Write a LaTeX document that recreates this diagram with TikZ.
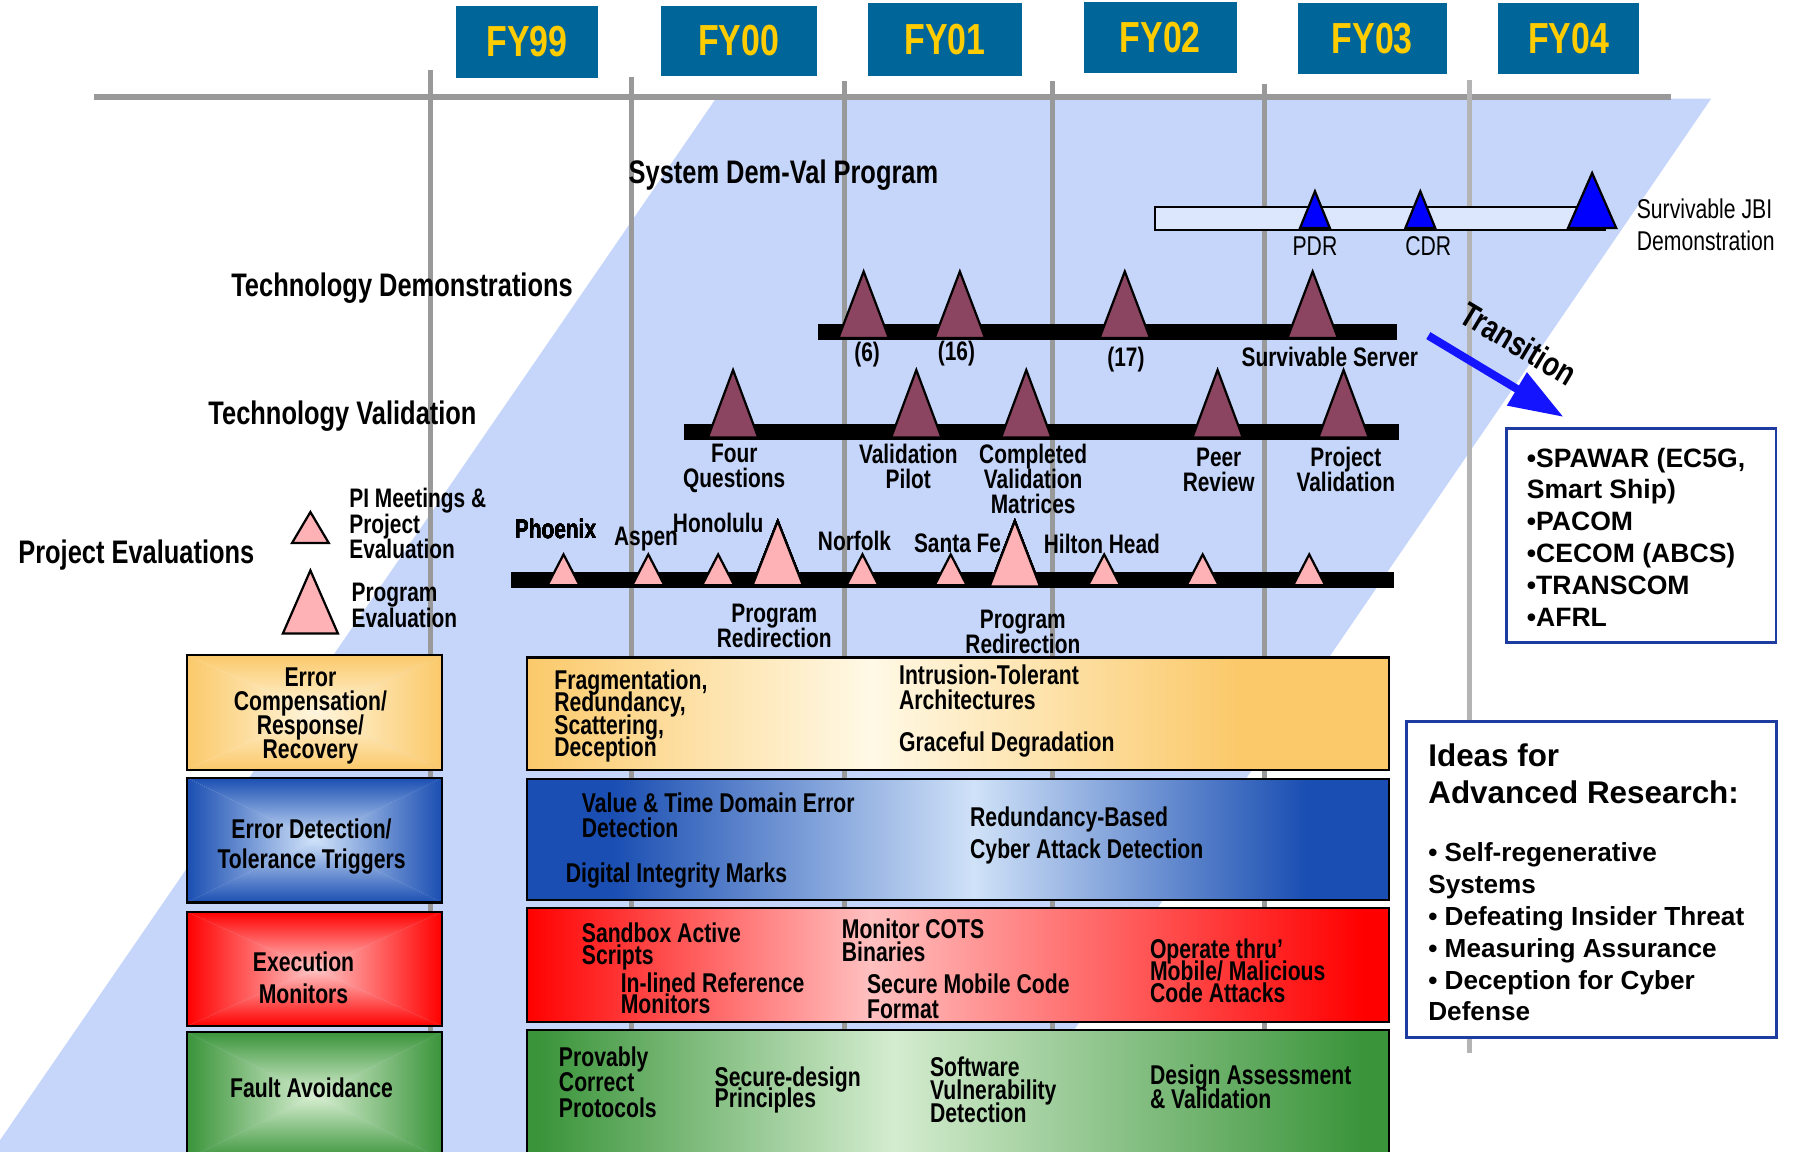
\documentclass[tikz,border=0pt]{standalone}
\usepackage{fontspec}
\usetikzlibrary{arrows.meta}
\newfontfamily\condsans{Liberation Sans}[FakeStretch=0.78]
\newfontfamily\plainsans{Liberation Sans}
\newcommand\cb{\condsans\bfseries}
\newcommand\fs[2]{\fontsize{#1pt}{#2pt}\selectfont\lineskiplimit=-50pt\lineskip=0pt\relax}

\definecolor{bgblue}{RGB}{198,214,250}
\definecolor{yearfill}{RGB}{0,102,153}
\definecolor{yeartext}{RGB}{255,204,0}
\definecolor{gridgray}{RGB}{153,153,153}
\definecolor{lightgrid}{RGB}{180,180,180}
\definecolor{mauve}{RGB}{139,69,96}
\definecolor{evalpink}{RGB}{255,178,182}
\definecolor{jbiblue}{RGB}{0,0,255}
\definecolor{barfill}{RGB}{220,230,252}
\definecolor{arrowblue}{RGB}{20,20,255}
\definecolor{frameblue}{RGB}{30,60,160}
% band colours: D = saturated edge, L = light band centre, C = box centre
\definecolor{orD}{RGB}{251,201,106}
\definecolor{orL}{RGB}{255,249,230}
\definecolor{orC}{RGB}{255,246,222}
\definecolor{blD}{RGB}{26,78,178}
\definecolor{blL}{RGB}{208,226,248}
\definecolor{blC}{RGB}{210,228,250}
\definecolor{rdD}{RGB}{255,0,0}
\definecolor{rdL}{RGB}{255,192,192}
\definecolor{rdC}{RGB}{255,200,200}
\definecolor{gnD}{RGB}{58,148,58}
\definecolor{gnL}{RGB}{212,236,207}
\definecolor{gnC}{RGB}{218,240,212}

\tikzset{
  every node/.style={inner sep=0pt, outer sep=0pt},
  gridline/.style={draw=gridgray, line width=0.1cm},
  yearline/.style={draw=gridgray, line width=0.085cm},
  yearbox/.style={fill=yearfill, text=yeartext, font=\cb\fs{21.6}{22}},
  mstone/.style={draw=black, line width=1.1pt},
  heading/.style={font=\cb\fs{16.2}{16}, anchor=base},
  tag/.style={font=\cb\fs{13.3}{13}, anchor=base},
  tagblock/.style={font=\cb\fs{13.3}{12.4}, align=center, anchor=north},
  legend/.style={font=\cb\fs{13.3}{12.8}, align=left, anchor=north west},
  boxtext/.style={font=\cb\fs{13.5}{#1}, align=left, anchor=north west},
  boxtext/.default=12,
  catbox/.style={draw=black, line width=1.1pt, minimum width=4.46cm},
  catlabel/.style={font=\cb\fs{13.5}{#1}, align=center},
  catlabel/.default=12,
  bandframe/.style={draw=black, line width=1.1pt, minimum width=15.06cm},
  infobox/.style={draw=frameblue, line width=1.4pt, fill=white},
  flow/.style={draw=arrowblue, line width=4pt,
    -{Triangle[length=0.95cm, width=0.64cm]}},
}

% milestone triangle: x, apex y, base y, half width, fill
\newcommand\mstone[5]{\filldraw[mstone, fill=#5] ({#1-#4},#3) -- (#1,#2) -- ({#1+#4},#3) -- cycle;}
% horizontal band: x0, gradient start, light peak, gradient end, x1, y top, y bottom, colour prefix
\newcommand\band[8]{%
  \fill[#8D] (#1,#6) rectangle ({#2+1},#7);
  \shade[left color=#8D, right color=#8L] (#2,#6) rectangle ({#3+0.5},#7);
  \shade[left color=#8L, right color=#8D] (#3,#6) rectangle ({#4+0.5},#7);
  \fill[#8D] (#4,#6) rectangle (#5,#7);}
% rectangular gradient, light at the centre: cx, cy, half width, half height, colour prefix
\newcommand\pyramid[5]{%
  \begin{scope}
    \clip ({#1-#3},{#2-#4}) -- ({#1+#3},{#2-#4}) -- (#1,#2) -- cycle;
    \shade[top color=#5D, bottom color=#5C] ({#1-#3},{#2-#4}) rectangle ({#1+#3},{#2+0.5});
  \end{scope}
  \begin{scope}
    \clip ({#1-#3},{#2+#4}) -- ({#1+#3},{#2+#4}) -- (#1,#2) -- cycle;
    \shade[top color=#5C, bottom color=#5D] ({#1-#3},{#2-0.5}) rectangle ({#1+#3},{#2+#4});
  \end{scope}
  \begin{scope}
    \clip ({#1-#3},{#2-#4}) -- ({#1-#3},{#2+#4}) -- (#1,#2) -- cycle;
    \shade[left color=#5D, right color=#5C] ({#1-#3},{#2-#4}) rectangle ({#1+0.5},{#2+#4});
  \end{scope}
  \begin{scope}
    \clip ({#1+#3},{#2-#4}) -- ({#1+#3},{#2+#4}) -- (#1,#2) -- cycle;
    \shade[left color=#5C, right color=#5D] ({#1-0.5},{#2-#4}) rectangle ({#1+#3},{#2+#4});
  \end{scope}}

\begin{document}
\begin{tikzpicture}[x=0.02cm, y=-0.02cm]
\useasboundingbox (0,0) rectangle (1568,1005);
\clip (0,0) rectangle (1568,1005);
\fill[white] (0,0) rectangle (1568,1005);

% transition band behind the schedule
\fill[bgblue] (625,86) -- (1494,86) -- (862,1010) -- (-10,1010) -- cycle;

% time axis and year separators
\draw[gridline] (82,84.5) -- (1459,84.5);
\foreach \x/\t in {376/61, 551/67, 737/71, 919/71, 1104/73}
  \draw[yearline] (\x,\t) -- (\x,1010);
\draw[yearline, draw=lightgrid] (1283,70) -- (1283,919);

% fiscal years
\node[yearbox, minimum width=2.48cm, minimum height=1.26cm] (fy99) at (460,36.5) {FY99};
\node[yearbox, minimum width=2.72cm, minimum height=1.22cm] (fy00) at (645,35.5) {FY00};
\node[yearbox, minimum width=2.68cm, minimum height=1.26cm] (fy01) at (825,34.5) {FY01};
\node[yearbox, minimum width=2.68cm, minimum height=1.24cm] (fy02) at (1013,33) {FY02};
\node[yearbox, minimum width=2.60cm, minimum height=1.24cm] (fy03) at (1198,34) {FY03};
\node[yearbox, minimum width=2.46cm, minimum height=1.24cm] (fy04) at (1369.5,34) {FY04};

% row headings
\node[heading] (sdv) at (684,160) {System Dem-Val Program};
\node[heading] (tdm) at (351,259) {Technology Demonstrations};
\node[heading] (tvl) at (299,371) {Technology Validation};
\node[heading] (pev) at (119,492) {Project Evaluations};

% system dem-val programme
\node[draw=black, fill=barfill, line width=1.1pt, minimum width=7.86cm, minimum height=0.4cm] (jbibar) at (1204.5,191) {};
\mstone{1148}{167}{199}{13}{jbiblue}
\mstone{1240}{167}{199}{13}{jbiblue}
\mstone{1390}{151}{199}{21}{jbiblue}
\node[font=\condsans\fs{13.5}{13}, anchor=base] (pdr) at (1148,223) {PDR};
\node[font=\condsans\fs{13.5}{13}, anchor=base] (cdr) at (1247,223) {CDR};
\node[font=\condsans\fs{13.5}{15.9}, align=left, anchor=north west] (jbi) at (1429,174) {Survivable JBI\\Demonstration};

% technology demonstrations
\fill[black] (714,283) rectangle (1220,297);
\mstone{754}{237}{295}{22}{mauve}
\mstone{838}{237}{295}{22}{mauve}
\mstone{982}{237}{295}{22}{mauve}
\mstone{1146}{237}{295}{22}{mauve}
\node[tag] (d6) at (757,316) {(6)};
\node[tag] (d16) at (835,315) {(16)};
\node[tag] (d17) at (983,320) {(17)};
\node[tag] (dss) at (1161,320) {Survivable Server};

% technology validation
\fill[black] (597,370) rectangle (1221,384);
\mstone{640}{323}{382}{22}{mauve}
\mstone{800}{323}{382}{22}{mauve}
\mstone{896}{323}{382}{22}{mauve}
\mstone{1063}{323}{382}{22}{mauve}
\mstone{1173}{323}{382}{22}{mauve}
\node[tagblock] (v1) at (641,388) {Four\\Questions};
\node[tagblock] (v2) at (793,388) {Validation\\Pilot};
\node[tagblock] (v3) at (902,388) {Completed\\Validation\\Matrices};
\node[tagblock] (v4) at (1064,391) {Peer\\Review};
\node[tagblock] (v5) at (1175,390) {Project\\Validation};

% project evaluations
\fill[black] (446,499) rectangle (1217,513);
\foreach \x in {492,566,627,753,830,964,1050,1143}
  \mstone{\x}{484}{511}{14}{evalpink}
\mstone{679}{455}{511}{22}{evalpink}
\mstone{886}{455}{512}{22}{evalpink}
\node[tag] (e1) at (485,470) {Phoenix};
\node[tag] (e2) at (564,476) {Aspen};
\node[tag] (e3) at (627,465) {Honolulu};
\node[tag] (e4) at (746,481) {Norfolk};
\node[tag] (e5) at (836,482) {Santa Fe};
\node[tag] (e6) at (962,483) {Hilton Head};
\node[tagblock] (r1) at (676,527) {Program\\Redirection};
\node[tagblock] (r2) at (893,533) {Program\\Redirection};

% legend
\mstone{271}{447}{474}{16}{evalpink}
\mstone{271}{498}{553}{24}{evalpink}
\node[legend] (lg1) at (305,426) {PI Meetings \&\\Project\\Evaluation};
\node[legend] (lg2) at (307,509) {Program\\Evaluation};

% transition to users
\node[font=\cb\fs{17}{17}, rotate=-31] (trl) at (1326,300) {Transition};
\coordinate (trs) at (1247,293);
\coordinate (tre) at (1365,364);
\draw[flow] (trs) -- (tre);
\node[infobox, minimum width=4.7cm, minimum height=3.74cm] (users) at (1433,467.5) {};
\node[font=\plainsans\bfseries\fs{13.2}{15.8}, align=left, anchor=north west] (ulist) at (1333,391)
  {•SPAWAR (EC5G,\\Smart Ship)\\•PACOM\\•CECOM (ABCS)\\•TRANSCOM\\•AFRL};

% research ideas
\node[infobox, minimum width=6.46cm, minimum height=5.52cm] (ideas) at (1389.5,768) {};
\node[font=\plainsans\bfseries\fs{15.6}{18.7}, align=left, anchor=north west] (ititle) at (1247,649)
  {Ideas for\\Advanced Research:};
\node[font=\plainsans\bfseries\fs{13}{15.8}, align=left, anchor=north west] (ilist) at (1247,736)
  {• Self-regenerative\\Systems\\• Defeating Insider Threat\\• Measuring Assurance\\• Deception for Cyber\\Defense};

% capability categories
\pyramid{274.5}{622}{111.5}{50}{or}
\pyramid{274.5}{733.5}{111.5}{54.5}{bl}
\pyramid{274.5}{846}{111.5}{50}{rd}
\pyramid{274.5}{956.5}{111.5}{55.5}{gn}
\node[catbox, minimum height=2cm] (ecr) at (274.5,622) {};
\node[catbox, minimum height=2.18cm] (edt) at (274.5,733.5) {};
\node[catbox, minimum height=2cm] (exm) at (274.5,846) {};
\node[catbox, minimum height=2.22cm] (fav) at (274.5,956.5) {};
\node[catlabel=11.9] (ecrt) at (271,625) {Error\\Compensation/\\Response/\\Recovery};
\node[catlabel=15] (edtt) at (272,739) {Error Detection/\\Tolerance Triggers};
\node[catlabel=15.9] (exmt) at (265,854) {Execution\\Monitors};
\node[catlabel] (favt) at (272,950) {Fault Avoidance};

% technology bands
\band{460}{460}{760}{1080}{1213}{574}{672}{or}
\node[bandframe, minimum height=1.96cm] (res) at (836.5,623) {};
\band{460}{535}{850}{1140}{1213}{680}{786}{bl}
\node[bandframe, minimum height=2.12cm] (det) at (836.5,733) {};
\band{460}{460}{760}{1190}{1213}{793}{892}{rd}
\node[bandframe, minimum height=1.98cm] (exe) at (836.5,842.5) {};
\band{460}{470}{780}{1190}{1213}{899}{1012}{gn}
\node[bandframe, minimum height=2.26cm] (avd) at (836.5,955.5) {};

\node[boxtext=11] (t1) at (484,585) {Fragmentation,\\Redundancy,\\Scattering,\\Deception};
\node[boxtext=12.5] (t2) at (785,580) {Intrusion-Tolerant\\Architectures};
\node[boxtext] (t3) at (785,639) {Graceful Degradation};
\node[boxtext=12.5] (t4) at (508,692) {Value \& Time Domain Error\\Detection};
\node[boxtext] (t5) at (494,753) {Digital Integrity Marks};
\node[boxtext=15.9] (t6) at (847,704) {Redundancy-Based\\Cyber Attack Detection};
\node[boxtext=10.8] (t7) at (508,806) {Sandbox Active\\Scripts};
\node[boxtext=10.8] (t8) at (542,849) {In-lined Reference\\Monitors};
\node[boxtext=11.3] (t9) at (735,802) {Monitor COTS\\Binaries};
\node[boxtext=12.5] (t10) at (757,850) {Secure Mobile Code\\Format};
\node[boxtext=10.8] (t11) at (1004,820) {Operate thru’\\Mobile/ Malicious\\Code Attacks};
\node[boxtext=12.6] (t12) at (488,914) {Provably\\Correct\\Protocols};
\node[boxtext=10.8] (t13) at (624,931) {Secure-design\\Principles};
\node[boxtext=11.3] (t14) at (812,923) {Software\\Vulnerability\\Detection};
\node[boxtext=11.9] (t15) at (1004,930) {Design Assessment\\\& Validation};
\end{tikzpicture}
\end{document}
